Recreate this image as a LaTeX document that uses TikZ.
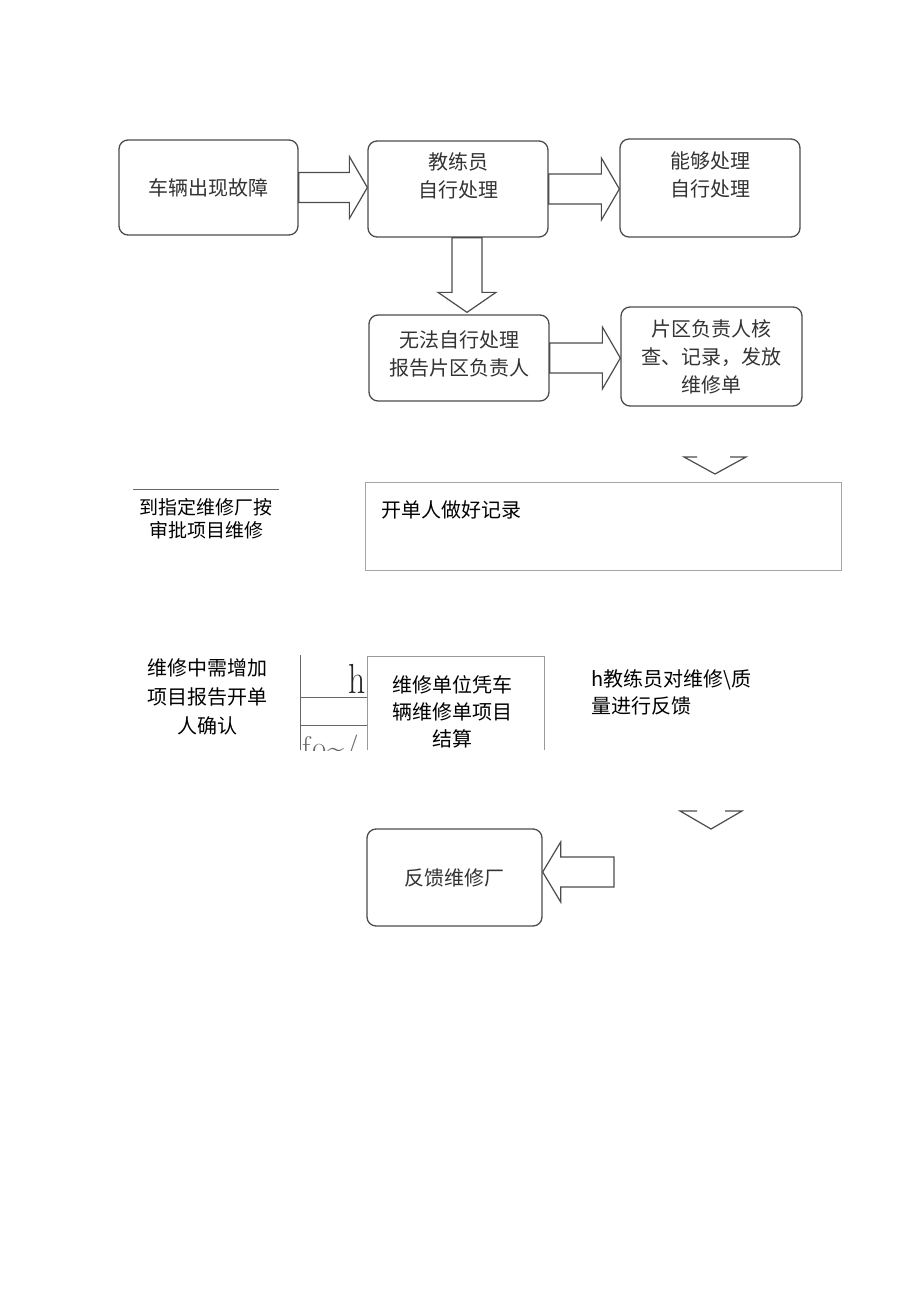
\documentclass[tikz,border=0pt]{standalone}
\usepackage{fontspec}
\newfontfamily\cjk{Noto Sans CJK SC}
\usetikzlibrary{calc, positioning}
\tikzset{
	every node/.style={
		font=\cjk\fontsize{20}{28}\selectfont
	},
	flowbox/.style={
		shape=rectangle,
		rounded corners=9pt,
		draw=black!70,
		line width=1.3pt,
		text=black!80,
		align=center,
		inner sep=0pt
	},
	plainbox/.style={
		shape=rectangle,
		draw=black!35,
		line width=0.7pt,
		inner sep=0pt
	},
	plaintext/.style={
		align=center,
		inner sep=0pt,
		text=black
	},
	blockright/.style={
		draw=black!70, line width=1.2pt, fill=white,
		to path={let \p1=(\tikztostart), \p2=(\tikztotarget) in
			(\x1,\y1+15pt) -- (\x2-18pt,\y1+15pt) -- (\x2-18pt,\y1+31pt) -- (\x2,\y1)
			-- (\x2-18pt,\y1-31pt) -- (\x2-18pt,\y1-15pt) -- (\x1,\y1-15pt) -- cycle}
	},
	blockleft/.style={
		draw=black!70, line width=1.2pt, fill=white,
		to path={let \p1=(\tikztostart), \p2=(\tikztotarget) in
			(\x1,\y1+15pt) -- (\x2+18pt,\y1+15pt) -- (\x2+18pt,\y1+30pt) -- (\x2,\y1)
			-- (\x2+18pt,\y1-30pt) -- (\x2+18pt,\y1-15pt) -- (\x1,\y1-15pt) -- cycle}
	},
	blockdown/.style={
		draw=black!70, line width=1.2pt, fill=white,
		to path={let \p1=(\tikztostart), \p2=(\tikztotarget) in
			(\x1-15pt,\y1) -- (\x1-15pt,\y2+20pt) -- (\x1-29pt,\y2+20pt) -- (\x1,\y2)
			-- (\x1+29pt,\y2+20pt) -- (\x1+15pt,\y2+20pt) -- (\x1+15pt,\y1) -- cycle}
	},
	chevron/.style={
		draw=black!70, line width=1.2pt
	}
}

\begin{document}
\begin{tikzpicture}[x=1pt, y=-1pt]
	\useasboundingbox[fill=white] (0,0) rectangle (920,1303);

	% first row
	\node[flowbox, minimum width=179pt, minimum height=95pt] (fault) at (208.5,187.5) {车辆出现故障};
	\node[flowbox, minimum width=180pt, minimum height=96pt, text depth=27pt] (coach) at (458,189) {教练员\\自行处理};
	\node[flowbox, minimum width=180pt, minimum height=98pt, text depth=27pt] (able) at (710,188) {能够处理\\自行处理};

	% second row
	\node[flowbox, minimum width=180pt, minimum height=86pt, text depth=10pt] (unable) at (459,358) {无法自行处理\\报告片区负责人};
	\node[flowbox, minimum width=181pt, minimum height=99pt] (check) at (711.5,356.5) {片区负责人核\\查、记录，发放\\维修单};

	\draw[blockright] (fault.east) to (coach.west);
	\draw[blockright] (coach.east) to (able.west);
	\draw[blockright] (unable.east) to (check.west);
	\draw[blockdown] ($(coach.south)+(9,0)$) to ($(unable.north)+(9,-2)$);

	% cut arrow heads
	\draw[chevron] (697,457) -- (684,457) -- (715,474) -- (746,457) -- (730,457);
	\draw[chevron] (697,811) -- (680,811) -- (711,829) -- (742,811) -- (725,811);

	% third row
	\node[plaintext, font=\cjk\fontsize{19}{23}\selectfont] (approve) at (206,519) {到指定维修厂按\\审批项目维修};
	\draw[black!60, line width=0.8pt] (133,489) -- (279,489);
	\node[plainbox, minimum width=476pt, minimum height=88pt] (record) at (603,526) {};
	\node[plaintext, anchor=west] (recordtext) at (381,510) {开单人做好记录};

	% fourth row
	\node[plaintext, font=\cjk\fontsize{20}{29}\selectfont] (add) at (207,697) {维修中需增加\\项目报告开单\\人确认};
	\draw[black!60, line width=0.8pt] (300,750) -- (300,655);
	\draw[black!60, line width=0.8pt] (300,697) -- (367,697);
	\draw[black!60, line width=0.8pt] (300,725) -- (367,725);
	\node[inner sep=0pt, anchor=base east, font=\rmfamily\fontsize{42}{42}\selectfont, text=black!85, xscale=0.8] (hmark) at (366,693) {h};
	\begin{scope}
		\clip (300,700) rectangle (367,750);
		\node[inner sep=0pt, anchor=base west, font=\rmfamily\fontsize{30}{30}\selectfont, text=black!60] (fmark) at (302,757) {f\kern2pt o\kern1pt\textasciitilde\kern1pt/};
	\end{scope}
	\draw[black!40, line width=0.8pt] (367,750) -- (367,656) -- (544,656) -- (544,750);
	\node[plaintext, font=\cjk\fontsize{20}{27}\selectfont] (settle) at (452,712) {维修单位凭车\\辆维修单项目\\结算};
	\node[plaintext, align=left, anchor=north west, font=\cjk\fontsize{20}{27}\selectfont] (quality) at (591,669) {h教练员对维修\textbackslash 质\\量进行反馈};

	% last row
	\node[flowbox, minimum width=175pt, minimum height=97pt] (feedback) at (454.5,877.5) {反馈维修厂};
	\coordinate (fbtail) at (614,872);
	\draw[blockleft] (fbtail) to (feedback.east);
\end{tikzpicture}
\end{document}
